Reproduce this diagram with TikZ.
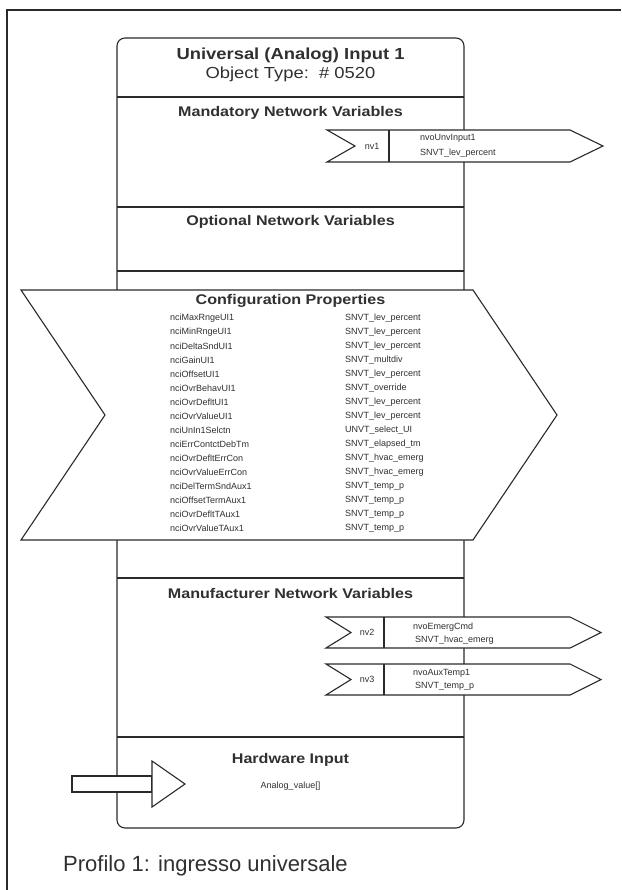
\documentclass[tikz,border=0pt]{standalone}
\usepackage{fontspec}
\setmainfont{Liberation Sans}
\newfontfamily\widefont[FakeStretch=1.15]{Liberation Sans}
\definecolor{ink}{HTML}{2A2A2A}
\definecolor{txt}{HTML}{303030}
\begin{document}
\begin{tikzpicture}[x=1pt,y=-1pt,
  frame/.style={draw=ink, line width=1.4pt},
  line/.style={draw=ink, line width=1.1pt},
  shapebox/.style={draw=ink, line width=1.1pt, fill=white},
  bigtitle/.style={font=\widefont\bfseries\fontsize{16}{18}\selectfont, text=txt, inner sep=0pt},
  subtitle/.style={font=\widefont\fontsize{16}{18}\selectfont, text=txt, inner sep=0pt},
  section/.style={font=\widefont\bfseries\fontsize{14}{16}\selectfont, text=txt, inner sep=0pt},
  small/.style={font=\fontsize{9}{10}\selectfont, text=txt, inner sep=0pt, anchor=west},
  nvlabel/.style={font=\fontsize{9}{10}\selectfont, text=txt, inner sep=0pt},
  caption/.style={font=\fontsize{22}{25}\selectfont, text=txt, inner sep=0pt, anchor=west}
]
\useasboundingbox (0,0) rectangle (621,890);

% open outer frame
\draw[frame] (621,10) -- (7,10) -- (7,890);

% object box with its section dividers
\draw[line, rounded corners=8pt] (117,38) rectangle (464,828);
\foreach \yy in {97,207,271,578,737}
  \draw[line] (117,\yy) -- (464,\yy);

% header
\node[bigtitle] (title) at (290.5,55) {Universal (Analog) Input 1};
\node[subtitle] (otype) at (290.5,74) {Object Type:\ \ \# 0520};

% mandatory network variables
\node[section] (mand) at (290.5,113) {Mandatory Network Variables};
\draw[shapebox] (327,130) -- (570,130) -- (603,146) -- (570,162) -- (327,162) -- (355,146) -- cycle;
\draw[line] (389,130) -- (389,162);
\node[nvlabel] (nv1) at (372,146) {nv1};
\node[small] (nv1a) at (420,138) {nvoUnvInput1};
\node[small] (nv1b) at (420,153) {SNVT\_lev\_percent};

% optional network variables
\node[section] (opt) at (290.5,222) {Optional Network Variables};

% configuration properties
\draw[shapebox] (21,290) -- (473,290) -- (557,415) -- (473,540) -- (21,540) -- (105,415) -- cycle;
\node[section] (conf) at (290.5,301) {Configuration Properties};
\foreach \name/\type [count=\i from 0] in {
  nciMaxRngeUI1/SNVT\_lev\_percent,
  nciMinRngeUI1/SNVT\_lev\_percent,
  nciDeltaSndUI1/SNVT\_lev\_percent,
  nciGainUI1/SNVT\_multdiv,
  nciOffsetUI1/SNVT\_lev\_percent,
  nciOvrBehavUI1/SNVT\_override,
  nciOvrDefltUI1/SNVT\_lev\_percent,
  nciOvrValueUI1/SNVT\_lev\_percent,
  nciUnIn1Selctn/UNVT\_select\_UI,
  nciErrContctDebTm/SNVT\_elapsed\_tm,
  nciOvrDefltErrCon/SNVT\_hvac\_emerg,
  nciOvrValueErrCon/SNVT\_hvac\_emerg,
  nciDelTermSndAux1/SNVT\_temp\_p,
  nciOffsetTermAux1/SNVT\_temp\_p,
  nciOvrDefltTAux1/SNVT\_temp\_p,
  nciOvrValueTAux1/SNVT\_temp\_p}
{
  \node[small] (cpn\i) at (170,318+14*\i) {\name};
  \node[small] (cpt\i) at (345,318+14*\i) {\type};
}

% manufacturer network variables
\node[section] (manu) at (290.5,593) {Manufacturer Network Variables};
\draw[shapebox] (326,617) -- (570,617) -- (601,632.5) -- (570,648) -- (326,648) -- (351,632.5) -- cycle;
\draw[line] (384,617) -- (384,648);
\node[nvlabel] (nv2) at (367,632.5) {nv2};
\node[small] (nv2a) at (413,627) {nvoEmergCmd};
\node[small] (nv2b) at (415,640) {SNVT\_hvac\_emerg};

\draw[shapebox] (326,664) -- (570,664) -- (601,679.5) -- (570,695) -- (326,695) -- (351,679.5) -- cycle;
\draw[line] (384,664) -- (384,695);
\node[nvlabel] (nv3) at (367,679.5) {nv3};
\node[small] (nv3a) at (413,673) {nvoAuxTemp1};
\node[small] (nv3b) at (415,686) {SNVT\_temp\_p};

% hardware input
\node[section] (hw) at (290.5,760) {Hardware Input};
\node[nvlabel] (aval) at (290.5,786) {Analog\_value[]};
\draw[shapebox] (72,776) rectangle (152,792);
\draw[shapebox] (152,761) -- (185,784) -- (152,807) -- cycle;

% caption
\node[caption] (cap) at (63,866) {Profilo 1: ingresso universale};
\end{tikzpicture}
\end{document}
